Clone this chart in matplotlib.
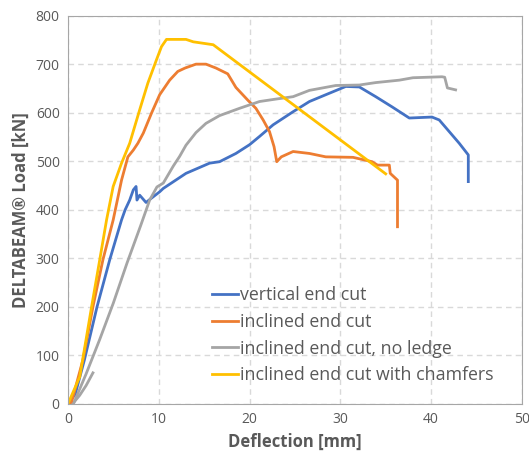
import matplotlib.pyplot as plt

# Load-deflection curves
vert_x = [0, 0.8, 1.8, 3.2, 4.6, 5.9, 6.3, 6.8, 7.2, 7.5, 7.6, 7.9, 8.6, 9.2, 10.1, 10.5,
          13.0, 15.6, 16.7, 18.5, 20.0, 21.1, 22.6, 24.8, 26.6, 28.4, 30.6, 32.1, 33.9,
          35.7, 37.6, 40.1, 40.9, 42.0, 43.1, 44.1, 44.1]
vert_y = [0, 20, 90, 200, 297, 379, 400, 420, 441, 448, 420, 430, 415, 424, 437, 444,
          475, 496, 499, 516, 534, 551, 575, 602, 623, 637, 654, 653, 633,
          612, 589, 591, 585, 561, 537, 513, 458]

incl_x = [0, 0.4, 1.65, 2.75, 3.85, 4.98, 5.9, 6.6, 7.2, 7.7, 8.3, 9.2, 10.1, 11.2,
          12.1, 12.9, 14.1, 15.2, 16.3, 17.6, 18.5, 19.8, 20.7, 21.5, 22.2, 22.7, 23.0,
          23.5, 24.8, 26.6, 28.4, 31.4, 33.5, 34.1, 35.4, 35.5, 35.9, 36.3, 36.3]
incl_y = [0, 4, 91, 200, 297, 379, 461, 509, 523, 537, 558, 599, 637, 667,
          685, 692, 700, 700, 692, 680, 652, 626, 609, 585, 561, 530, 499,
          509, 520, 516, 509, 508, 499, 492, 492, 475, 468, 461, 365]

# first small load cycle of the "no ledge" test
cycle_x = [0.5, 1.3, 2.0, 2.75]
cycle_y = [0, 18, 38, 64]

noledge_x = [0.6, 2.0, 3.5, 5.0, 6.5, 8.0, 9.0, 9.8, 10.5, 11.6, 12.3, 13.0, 14.1, 15.2,
             16.7, 18.9, 21.1, 22.9, 24.8, 26.6, 29.5, 32.1, 33.9, 36.5, 38.0, 41.2, 41.5,
             41.8, 42.7]
noledge_y = [0, 62, 133, 208, 290, 367, 420, 447, 455, 490, 510, 533, 559, 578,
             594, 609, 623, 628, 633, 646, 656, 657, 662, 667, 672, 674, 673,
             651, 647]

chamf_x = [0, 1.3, 2.6, 3.5, 4.25, 4.98, 5.9, 6.8, 7.9, 8.8, 9.75, 10.3, 10.85, 13.0,
           13.8, 16.0, 35.0]
chamf_y = [0, 56, 200, 297, 379, 448, 496, 537, 606, 661, 709, 736, 751, 751,
           746, 740, 474]

labels = ['vertical end cut', 'inclined end cut', 'inclined end cut, no ledge',
          'inclined end cut with chamfers']
colors = ['#4472C4', '#ED7D31', '#A5A5A5', '#FFC000']

plt.rcParams['font.family'] = ['Open Sans', 'DejaVu Sans']

fig = plt.figure(figsize=(5.29, 4.59), dpi=100)
ax = fig.add_axes([0.1285, 0.12, 0.858, 0.846])

ax.plot(cycle_x, cycle_y, color=colors[2], lw=2)
series = [(vert_x, vert_y), (incl_x, incl_y), (noledge_x, noledge_y), (chamf_x, chamf_y)]
for (xs, ys), lab, col in zip(series, labels, colors):
    ax.plot(xs, ys, color=col, lw=2, label=lab)

ax.set_xlim(0, 50)
ax.set_ylim(0, 800)
ax.set_xticks(range(0, 51, 10))
ax.set_yticks(range(0, 801, 100))
ax.grid(True, color='#D9D9D9', linestyle=(0, (4, 3)), lw=1)
ax.set_axisbelow(True)
for s in ax.spines.values():
    s.set_color('#A6A6A6')
ax.tick_params(length=0, colors='#595959', labelsize=10, pad=6)

ax.set_xlabel('Deflection [mm]', fontsize=12, fontweight='bold', color='#595959')
ax.set_ylabel('DELTABEAM® Load [kN]', fontsize=12, fontweight='bold', color='#595959')

ax.legend(loc='lower left', bbox_to_anchor=(0.282, 0.01), frameon=False, fontsize=12.8,
          labelcolor='#595959', handlelength=1.45, handletextpad=0.1, labelspacing=0.48)

fig.savefig('out.png', dpi=100)
